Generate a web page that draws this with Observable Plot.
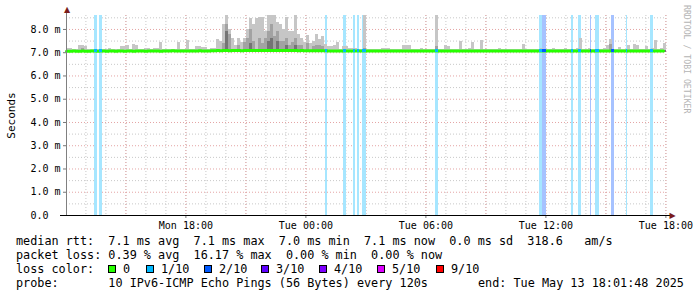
<!DOCTYPE html>
<html><head><meta charset="utf-8">
<script src="https://cdn.jsdelivr.net/npm/d3@7"></script>
<script src="https://cdn.jsdelivr.net/npm/@observablehq/plot@0.6"></script>
<style>
body{margin:0;background:#fff;width:697px;height:297px;overflow:hidden;position:relative;font-family:"DejaVu Sans Mono",monospace;}
#chart{position:absolute;left:0;top:0;}
.row{position:absolute;left:16px;font-size:11.8px;line-height:14px;white-space:pre;color:#000;}
.box{position:absolute;width:6px;height:6px;border:1px solid #000;}
.lbl{position:absolute;font-size:11.8px;line-height:14px;white-space:pre;color:#000;}
#wm{position:absolute;left:683px;top:5px;writing-mode:vertical-rl;font-size:8.2px;line-height:8px;color:#b4b4b4;white-space:pre;}
</style>
</head><body>
<div id="chart"></div>
<div id="legend"></div>
<div id="wm">RRDTOOL / TOBI OETIKER</div>
<script>
// ---- time window ----
const startTime = "2025-05-12T12:01:48Z";
const endTime = "2025-05-13T18:01:48Z";
const stepMinutes = 9;

// ---- smoke (ms), one value per 9-minute step ----
const smokeHigh = [
7.18,7.18,7.12,7.12,7.30,7.30,7.28,7.12,7.15,7.12,
7.12,7.15,7.12,7.12,7.16,7.12,7.12,7.15,7.25,7.25,
7.33,7.15,7.34,7.30,7.15,7.12,7.20,7.20,7.15,7.20,
7.20,7.44,7.15,7.12,7.15,7.12,7.15,7.44,7.15,7.12,
7.51,7.15,7.12,7.25,7.25,7.22,7.22,7.15,7.18,7.20,
7.55,7.50,8.20,8.60,8.00,7.60,7.30,7.60,7.45,7.60,
8.00,8.45,8.20,8.45,8.50,8.50,7.90,8.60,8.60,8.60,
8.30,8.20,8.00,8.50,7.90,7.90,8.60,7.80,7.60,7.45,
7.75,7.40,7.50,7.80,7.55,7.70,7.35,7.25,7.25,7.30,
7.44,7.15,7.25,7.25,7.20,7.20,7.20,7.12,7.15,8.60,
7.12,7.15,7.12,7.12,7.15,7.17,7.17,7.17,7.12,7.15,
7.12,7.15,7.30,7.32,7.30,7.12,7.15,7.12,7.18,7.12,
7.15,7.12,7.15,8.60,7.12,7.15,7.30,7.25,7.15,7.12,
7.15,7.48,7.15,7.12,7.18,7.44,7.12,7.15,7.52,7.15,
7.12,7.15,7.12,7.15,7.20,7.12,7.15,7.12,7.15,7.12,
7.15,7.12,7.36,7.15,7.12,7.15,7.12,7.15,7.20,7.12,
7.15,7.12,7.17,7.15,7.12,7.15,7.20,7.12,7.15,7.12,
7.18,7.63,7.15,7.12,7.20,7.15,7.12,7.15,7.12,7.20,
7.30,7.58,7.15,7.12,7.22,7.15,7.12,7.30,7.15,7.35,
7.30,7.15,7.12,7.25,7.15,7.20,7.51,7.15,7.20,7.40];

const smokeMid = [
7.10,7.10,7.10,7.10,7.10,7.18,7.10,7.10,7.10,7.10,
7.10,7.10,7.10,7.10,7.10,7.10,7.10,7.10,7.10,7.10,
7.10,7.10,7.10,7.10,7.10,7.10,7.10,7.10,7.10,7.10,
7.10,7.10,7.10,7.10,7.10,7.10,7.10,7.10,7.10,7.10,
7.10,7.10,7.10,7.10,7.10,7.10,7.10,7.10,7.10,7.10,
7.10,7.10,7.40,8.20,7.80,7.10,7.10,7.30,7.10,7.45,
7.60,8.00,7.50,7.10,7.60,7.40,7.60,7.90,8.20,7.70,
7.90,7.50,7.50,7.60,7.30,7.45,7.60,7.30,7.30,7.10,
7.40,7.10,7.25,7.30,7.30,7.25,7.10,7.10,7.10,7.10,
7.10,7.10,7.10,7.10,7.10,7.10,7.10,7.10,7.10,7.20,
7.10,7.10,7.10,7.10,7.10,7.10,7.10,7.10,7.10,7.10,
7.10,7.10,7.10,7.10,7.10,7.10,7.10,7.10,7.10,7.10,
7.10,7.10,7.10,7.25,7.10,7.10,7.10,7.10,7.10,7.10,
7.10,7.10,7.10,7.10,7.10,7.10,7.10,7.10,7.10,7.10,
7.10,7.10,7.10,7.10,7.10,7.10,7.10,7.10,7.10,7.10,
7.10,7.10,7.10,7.10,7.10,7.10,7.10,7.10,7.10,7.10,
7.10,7.10,7.10,7.10,7.10,7.10,7.10,7.10,7.10,7.10,
7.10,7.10,7.10,7.10,7.10,7.10,7.10,7.10,7.10,7.10,
7.10,7.35,7.10,7.10,7.10,7.10,7.10,7.10,7.10,7.10,
7.10,7.10,7.10,7.10,7.10,7.10,7.10,7.10,7.10,7.10];

const smokeDark = [
7.10,7.10,7.10,7.10,7.10,7.10,7.10,7.10,7.10,7.10,
7.10,7.10,7.10,7.10,7.10,7.10,7.10,7.10,7.10,7.10,
7.10,7.10,7.10,7.10,7.10,7.10,7.10,7.10,7.10,7.10,
7.10,7.10,7.10,7.10,7.10,7.10,7.10,7.10,7.10,7.10,
7.10,7.10,7.10,7.10,7.10,7.10,7.10,7.10,7.10,7.10,
7.10,7.10,7.10,7.90,7.10,7.10,7.10,7.10,7.10,7.10,
7.10,7.40,7.10,7.10,7.10,7.10,7.10,7.50,7.60,7.10,
7.50,7.10,7.10,7.30,7.10,7.10,7.30,7.10,7.10,7.10,
7.10,7.10,7.10,7.10,7.10,7.10,7.10,7.10,7.10,7.10,
7.10,7.10,7.10,7.10,7.10,7.10,7.10,7.10,7.10,7.10,
7.10,7.10,7.10,7.10,7.10,7.10,7.10,7.10,7.10,7.10,
7.10,7.10,7.10,7.10,7.10,7.10,7.10,7.10,7.10,7.10,
7.10,7.10,7.10,7.10,7.10,7.10,7.10,7.10,7.10,7.10,
7.10,7.10,7.10,7.10,7.10,7.10,7.10,7.10,7.10,7.10,
7.10,7.10,7.10,7.10,7.10,7.10,7.10,7.10,7.10,7.10,
7.10,7.10,7.10,7.10,7.10,7.10,7.10,7.10,7.10,7.10,
7.10,7.10,7.10,7.10,7.10,7.10,7.10,7.10,7.10,7.10,
7.10,7.10,7.10,7.10,7.10,7.10,7.10,7.10,7.10,7.10,
7.10,7.10,7.10,7.10,7.10,7.10,7.10,7.10,7.10,7.10,
7.10,7.10,7.10,7.10,7.10,7.10,7.10,7.10,7.10,7.10];

const smokeLow = 6.99;

const medianRtt = [
7.06,7.06,7.07,7.06,7.06,7.07,7.06,7.06,7.07,7.07,
7.06,7.07,7.07,7.06,7.07,7.07,7.06,7.07,7.07,7.06,
7.07,7.07,7.06,7.07,7.07,7.07,7.06,7.07,7.07,7.07,
7.07,7.06,7.07,7.07,7.07,7.08,7.07,7.07,7.07,7.07,
7.07,7.07,7.07,7.07,7.08,7.07,7.07,7.07,7.08,7.08,
7.09,7.08,7.09,7.09,7.08,7.09,7.09,7.09,7.08,7.09,
7.09,7.09,7.09,7.09,7.10,7.09,7.09,7.09,7.10,7.09,
7.09,7.09,7.09,7.09,7.09,7.09,7.09,7.08,7.09,7.08,
7.08,7.08,7.08,7.08,7.08,7.08,7.08,7.07,7.07,7.07,
7.07,7.07,7.07,7.07,7.07,7.07,7.07,7.07,7.07,7.07,
7.07,7.07,7.07,7.07,7.07,7.07,7.07,7.07,7.07,7.07,
7.07,7.07,7.07,7.07,7.07,7.07,7.07,7.07,7.07,7.07,
7.07,7.07,7.07,7.07,7.07,7.07,7.07,7.07,7.07,7.07,
7.07,7.07,7.07,7.07,7.07,7.07,7.07,7.07,7.07,7.07,
7.07,7.07,7.07,7.07,7.07,7.07,7.07,7.07,7.07,7.07,
7.07,7.07,7.07,7.07,7.07,7.07,7.07,7.07,7.07,7.07,
7.07,7.07,7.07,7.07,7.07,7.07,7.07,7.07,7.07,7.07,
7.07,7.07,7.07,7.07,7.07,7.07,7.07,7.07,7.07,7.07,
7.07,7.07,7.07,7.07,7.07,7.07,7.07,7.07,7.07,7.07,
7.07,7.07,7.07,7.07,7.07,7.07,7.07,7.07,7.07,7.07];

// ---- packet loss intervals ----
const lossStart = ["2025-05-12T13:26Z","2025-05-12T13:41Z","2025-05-13T00:59Z","2025-05-13T01:53Z","2025-05-13T02:23Z","2025-05-13T02:35Z","2025-05-13T02:50Z","2025-05-13T06:29Z","2025-05-13T11:41Z","2025-05-13T11:50Z","2025-05-13T13:17Z","2025-05-13T13:38Z","2025-05-13T14:14Z","2025-05-13T14:29Z","2025-05-13T15:17Z","2025-05-13T16:02Z","2025-05-13T17:14Z"];
const lossEnd   = ["2025-05-12T13:35Z","2025-05-12T13:50Z","2025-05-13T01:05Z","2025-05-13T02:02Z","2025-05-13T02:29Z","2025-05-13T02:41Z","2025-05-13T03:02Z","2025-05-13T06:38Z","2025-05-13T11:50Z","2025-05-13T12:02Z","2025-05-13T13:23Z","2025-05-13T13:47Z","2025-05-13T14:17Z","2025-05-13T14:41Z","2025-05-13T15:26Z","2025-05-13T16:05Z","2025-05-13T17:23Z"];
const lossLevel = [1,1,1,1,1,1,1,1,1,2,1,1,2,1,2,1,1];

// ---- legend ----
const lossLabels = ["0","1/10","2/10","3/10","4/10","5/10","9/10"];
const lossColors = ["#26ff00","#00b8ff","#0059ff","#5e00ff","#7e00ff","#dd00ff","#ff0000"];
const lossBgColors = {1:"#a6e6ff", 2:"#a6c2ff"};
const rttStats = ["7.1 ms avg","7.1 ms max","7.0 ms min","7.1 ms now","0.0 ms sd","318.6   am/s"];
const lossStats = ["0.39 % avg","16.17 % max","0.00 % min","0.00 % now"];
const probeText = "10 IPv6-ICMP Echo Pings (56 Bytes) every 120s";
const endText = "end: Tue May 13 18:01:48 2025";

// ---- ticks ----
const yTicks = [0,1,2,3,4,5,6,7,8];
const yMinorTicks = [0.5,1.5,2.5,3.5,4.5,5.5,6.5,7.5,8.5];
const yMax = 8.6;

const t0 = new Date(startTime), t1 = new Date(endTime);
const stepMs = stepMinutes * 60000;
const rows = smokeHigh.map((h, i) => ({
  a: new Date(+t0 + i * stepMs), b: new Date(+t0 + (i + 1) * stepMs),
  hi: h, mid: smokeMid[i], dark: smokeDark[i], med: medianRtt[i]
}));
const medAt = t => medianRtt[Math.min(medianRtt.length - 1, Math.floor((t - t0) / stepMs))];
const loss = lossStart.map((s, i) => ({
  s: new Date(s), e: new Date(lossEnd[i]), lvl: lossLevel[i], med: medAt(new Date(s))
}));

const hourTicks = d3.utcHour.every(1).range(t0, t1);
const threeHourTicks = d3.utcHour.every(3).range(t0, t1);
const labelTicks = d3.utcHour.every(6).range(t0, t1);
const fmt = d3.utcFormat("%a %H:%M");

const chart = Plot.plot({
  width: 697, height: 233,
  marginLeft: 66, marginRight: 31, marginTop: 15, marginBottom: 18,
  style: {fontFamily: "'DejaVu Sans Mono', monospace", fontSize: "10px", color: "#000", background: "#fff"},
  x: {type: "utc", domain: [t0, t1]},
  y: {domain: [0, yMax]},
  marks: [
    Plot.gridY(yMinorTicks, {stroke: "#c8c8c8", strokeOpacity: 1, strokeDasharray: "1,2"}),
    Plot.gridX(hourTicks, {stroke: "#c8c8c8", strokeOpacity: 1, strokeDasharray: "1,2"}),
    Plot.gridY(yTicks.slice(1), {stroke: "#e4a4a4", strokeOpacity: 1, strokeDasharray: "1,2"}),
    Plot.gridX(threeHourTicks, {stroke: "#e4a4a4", strokeOpacity: 1, strokeDasharray: "1,2"}),
    Plot.rect(loss, {x1: "s", x2: "e", fill: d => lossBgColors[d.lvl], shapeRendering: "crispEdges"}),
    Plot.rect(rows, {x1: "a", x2: "b", y1: () => smokeLow, y2: "hi", fill: "#c6c6c6", shapeRendering: "crispEdges"}),
    Plot.rect(rows, {x1: "a", x2: "b", y1: () => smokeLow, y2: "mid", fill: "#a2a2a2", shapeRendering: "crispEdges"}),
    Plot.rect(rows, {x1: "a", x2: "b", y1: () => smokeLow, y2: "dark", fill: "#747474", shapeRendering: "crispEdges"}),
    Plot.line(rows, {x: "a", y: "med", curve: "step-after", stroke: lossColors[0], strokeWidth: 3}),
    Plot.rect(loss, {x1: "s", x2: "e", y1: d => d.med - 0.065, y2: d => d.med + 0.065, fill: d => lossColors[d.lvl], shapeRendering: "crispEdges"}),
    Plot.axisY(yTicks, {tickFormat: d => d === 0 ? "0.0\u00a0\u00a0" : d.toFixed(1) + " m", tickSize: 3, tickPadding: 3, stroke: "#777", fill: "#000", label: null}),
    Plot.axisX(labelTicks, {tickFormat: fmt, tickSize: 3, tickPadding: 3, stroke: "#777", fill: "#000", label: null}),
    Plot.ruleX([t0], {stroke: "#808080", insetTop: -5}),
    Plot.ruleY([0], {stroke: "#000", insetLeft: -6, insetRight: -4}),
    Plot.text(["\u25B2"], {frameAnchor: "top-left", textAnchor: "middle", lineAnchor: "middle", dy: -6, dx: 0.5, fill: "#7a1c1c", fontSize: 8, fontFamily: "DejaVu Sans"}),
    Plot.text(["\u25B6"], {frameAnchor: "bottom-right", textAnchor: "middle", lineAnchor: "middle", dx: 6, fill: "#7a1c1c", fontSize: 8, fontFamily: "DejaVu Sans"}),
    Plot.text(["Seconds"], {frameAnchor: "left", textAnchor: "middle", lineAnchor: "middle", rotate: -90, dx: -55, fontSize: 11, fill: "#000"})
  ]
});
document.getElementById("chart").appendChild(chart);

// ---- legend (HTML below the SVG) ----
const L = document.getElementById("legend");
function addRow(text, top, left) {
  const d = document.createElement("div");
  d.className = "row"; d.style.top = top + "px";
  if (left !== undefined) d.style.left = left + "px";
  d.textContent = text; L.appendChild(d);
}
addRow("median rtt:  " + rttStats.join("  "), 234);
addRow("packet loss: " + lossStats.join("  "), 248);
addRow("loss color:", 262);
const boxX = [108,146,204,261,319,377,436];
lossLabels.forEach((lab, i) => {
  const b = document.createElement("div");
  b.className = "box"; b.style.left = boxX[i] + "px"; b.style.top = "265px";
  b.style.background = lossColors[i]; L.appendChild(b);
  const t = document.createElement("div");
  t.className = "lbl"; t.style.left = (boxX[i] + 15) + "px"; t.style.top = "262px";
  t.textContent = lab; L.appendChild(t);
});
addRow("probe:       " + probeText, 276);
addRow(endText, 276, 478);
</script>
</body></html>
